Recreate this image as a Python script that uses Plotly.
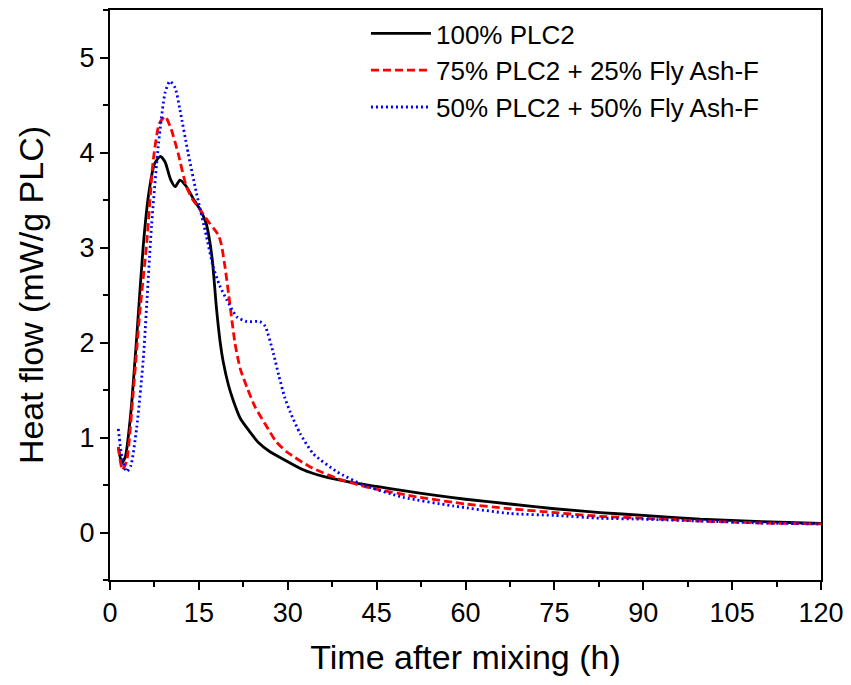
import plotly.graph_objects as go

# Data
black_x = [1.4, 2.0, 2.6, 3.5, 4.5, 5.6, 6.5, 7.5, 8.5, 9.3, 10.2, 11.0, 11.8, 12.8, 14.0, 15.2, 16.2, 16.8,
           17.3, 18.0, 18.6, 19.1, 20.0, 20.8, 22.0, 23.6, 25.0, 27.0, 29.0, 32.6, 36.0, 40.5, 45.0, 49.5,
           55.0, 60.0, 67.5, 75.0, 82.7, 90.0, 99.6, 110.0, 120.0]
black_y = [0.90, 0.73, 0.80, 1.25, 2.05, 3.01, 3.55, 3.88, 3.96, 3.90, 3.72, 3.64, 3.71, 3.65, 3.52, 3.40, 3.26, 3.08,
           2.85, 2.34, 2.00, 1.80, 1.55, 1.39, 1.20, 1.06, 0.95, 0.85, 0.78, 0.66, 0.59, 0.53, 0.485, 0.44,
           0.39, 0.35, 0.30, 0.25, 0.21, 0.18, 0.14, 0.115, 0.095]

red_x = [1.4, 2.1, 2.8, 3.9, 5.0, 6.2, 7.3, 8.3, 9.3, 10.3, 11.5, 12.9, 14.0, 15.2, 16.5, 17.5, 18.3, 18.8,
         19.4, 20.0, 21.1, 22.0, 23.1, 24.5, 26.4, 28.0, 29.8, 33.8, 38.3, 43.9, 52.3, 60.0, 67.5, 75.0,
         82.7, 90.0, 100.0, 110.0, 120.0]
red_y = [0.90, 0.66, 0.75, 1.46, 2.30, 3.05, 3.92, 4.30, 4.38, 4.25, 3.99, 3.64, 3.50, 3.40, 3.28, 3.20, 3.13, 3.03,
         2.80, 2.52, 1.99, 1.72, 1.53, 1.32, 1.12, 0.96, 0.85, 0.69, 0.57, 0.47, 0.37, 0.30, 0.25, 0.21,
         0.17, 0.15, 0.12, 0.10, 0.09]

blue_x = [1.4, 2.0, 2.8, 3.5, 4.5, 5.6, 7.0, 8.2, 9.3, 10.1, 11.0, 11.8, 13.2, 14.6, 16.3, 17.4, 18.5, 19.7,
          21.4, 23.1, 25.3, 26.2, 27.6, 28.5, 29.5, 30.4, 32.1, 34.3, 38.3, 42.8, 49.5, 57.9, 67.5, 75.0,
          82.7, 90.0, 100.0, 110.0, 120.0]
blue_y = [1.09, 0.80, 0.64, 0.70, 1.10, 1.81, 3.22, 4.10, 4.63, 4.75, 4.68, 4.45, 3.99, 3.57, 3.11, 2.80, 2.60, 2.45,
          2.27, 2.22, 2.22, 2.17, 1.88, 1.65, 1.42, 1.27, 1.04, 0.83, 0.64, 0.50, 0.37, 0.28, 0.20, 0.18,
          0.15, 0.14, 0.12, 0.10, 0.09]

names = ["100% PLC2", "75% PLC2 + 25% Fly Ash-F", "50% PLC2 + 50% Fly Ash-F"]
x_ticks = [0, 15, 30, 45, 60, 75, 90, 105, 120]
y_ticks = [0, 1, 2, 3, 4, 5]

FONT = "Liberation Sans, Arial, sans-serif"

fig = go.Figure()
fig.add_trace(go.Scatter(x=black_x, y=black_y, mode="lines", name=names[0],
                         line=dict(color="black", width=2.8, shape="spline", smoothing=0.6)))
fig.add_trace(go.Scatter(x=red_x, y=red_y, mode="lines", name=names[1],
                         line=dict(color="#ff0000", width=2.8, dash="8px,4px", shape="spline", smoothing=0.6)))
fig.add_trace(go.Scatter(x=blue_x, y=blue_y, mode="lines", name=names[2],
                         line=dict(color="#0000ff", width=2.8, dash="2px,3px", shape="spline", smoothing=0.6)))

axis_common = dict(
    showline=True, linecolor="black", linewidth=2, mirror=True,
    ticks="outside", ticklen=8, tickwidth=2, tickcolor="black",
    showgrid=False, zeroline=False,
    tickfont=dict(family=FONT, size=27, color="black"),
)

fig.update_xaxes(range=[0, 120], tickvals=x_ticks, ticktext=[str(v) for v in x_ticks],
                 minor=dict(dtick=7.5, tick0=0, ticks="outside", ticklen=5, tickwidth=2, tickcolor="black"),
                 title=dict(text="Time after mixing (h)", font=dict(family=FONT, size=34, color="black"),
                            standoff=18),
                 **axis_common)
fig.update_yaxes(range=[-0.5, 5.5], tickvals=y_ticks, ticktext=[str(v) for v in y_ticks],
                 minor=dict(dtick=0.5, tick0=0, ticks="outside", ticklen=5, tickwidth=2, tickcolor="black"),
                 title=dict(text="Heat flow (mW/g PLC)", font=dict(family=FONT, size=34, color="black"),
                            standoff=26),
                 **axis_common)

fig.update_layout(
    width=851, height=685,
    margin=dict(l=110, r=30, t=10, b=105, autoexpand=False),
    paper_bgcolor="white", plot_bgcolor="white",
    showlegend=True,
    legend=dict(x=0.36, y=1.0, xanchor="left", yanchor="top",
                font=dict(family=FONT, size=26, color="black"),
                bgcolor="rgba(0,0,0,0)", borderwidth=0, tracegroupgap=0, itemwidth=60),
)

fig.write_html("out.html")
